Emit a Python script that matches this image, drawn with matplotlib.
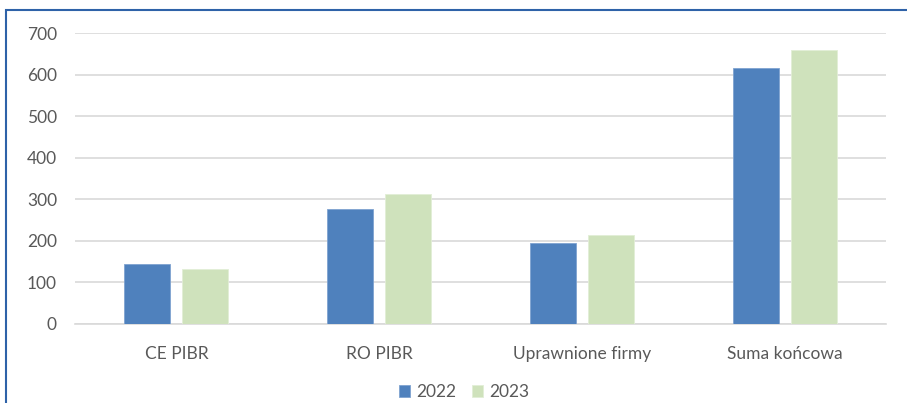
import numpy as np
import matplotlib.pyplot as plt
from matplotlib.patches import Rectangle

categories = ['CE PIBR', 'RO PIBR', 'Uprawnione firmy', 'Suma końcowa']
values_2022 = [144, 277, 196, 617]
values_2023 = [132, 313, 214, 660]
series_labels = ['2022', '2023']
yticks = [0, 100, 200, 300, 400, 500, 600, 700]

plt.rcParams['font.family'] = ['Lato', 'DejaVu Sans']
txt = '#595959'

fig = plt.figure(figsize=(9.07, 4.03), dpi=100)
ax = fig.add_axes([75 / 907, 1 - 324 / 403, 811 / 907, 291 / 403])

x = np.arange(len(categories))
w = 0.227
off = 0.143
ax.bar(x - off, values_2022, w, color='#4F81BD', edgecolor='#7fa3d0', linewidth=0.6, label=series_labels[0], zorder=3)
ax.bar(x + off, values_2023, w, color='#CFE2BC', edgecolor='#e2eed6', linewidth=0.6, label=series_labels[1], zorder=3)

ax.set_xlim(-0.5, 3.5)
ax.set_ylim(0, 700)
ax.set_yticks(yticks)
ax.set_xticks(x)
ax.set_xticklabels(categories)
ax.yaxis.grid(True, color='#d9d9d9', linewidth=1.2, zorder=0)
ax.tick_params(axis='both', length=0, colors=txt, labelsize=12.5)
ax.tick_params(axis='x', pad=16)
ax.tick_params(axis='y', pad=13)
for s in ['top', 'right', 'left']:
    ax.spines[s].set_visible(False)
ax.spines['bottom'].set_color('#d9d9d9')
ax.spines['bottom'].set_linewidth(1.2)

leg = fig.legend(loc='center', bbox_to_anchor=(464 / 907, 1 - 392 / 403), ncol=2, frameon=False,
                 fontsize=12.5, handlelength=0.65, handleheight=0.65, handletextpad=0.35, columnspacing=0.9)
for t in leg.get_texts():
    t.set_color(txt)

# frame of the chart box (cut at right and bottom)
fig.patches.append(Rectangle((6 / 907, -0.1), 1.2, 1 - 10 / 403 + 0.1, transform=fig.transFigure,
                             fill=False, edgecolor='#2e62a8', linewidth=1.5))

fig.savefig('out.png', dpi=100)
